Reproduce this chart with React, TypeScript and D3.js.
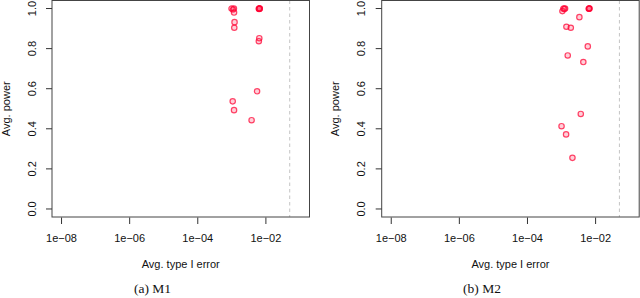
import React from "react";
import { scaleLog, scaleLinear } from "d3";

// Avg. type I error / avg. power for each method
const m1Error = [
  0.98e-3, 1.15e-3, 1.08e-3, 1.16e-3, 1.2e-3, 1.18e-3,
  6.2e-3, 6.4e-3, 6.6e-3, 6.3e-3, 6.5e-3,
  6.4e-3, 6.2e-3, 5.5e-3, 1.06e-3, 1.16e-3, 3.8e-3,
];
const m1Power = [
  1.0, 1.0, 0.995, 0.98, 0.932, 0.904,
  1.0, 1.0, 1.0, 0.998, 0.999,
  0.852, 0.837, 0.587, 0.537, 0.493, 0.443,
];

const m2Error = [
  1.13e-3, 1.27e-3, 1.06e-3, 1.2e-3,
  6.3e-3, 6.5e-3, 6.4e-3, 6.6e-3,
  3.34e-3, 1.39e-3, 1.87e-3, 5.9e-3, 1.52e-3, 4.36e-3,
  3.67e-3, 1.0e-3, 1.36e-3, 2.09e-3,
];
const m2Power = [
  1.0, 1.0, 0.987, 0.998,
  1.0, 1.0, 0.999, 1.0,
  0.957, 0.909, 0.904, 0.811, 0.766, 0.733,
  0.474, 0.413, 0.372, 0.255,
];

const xTicks = [1e-8, 1e-6, 1e-4, 1e-2];
const yTicks = [0, 0.2, 0.4, 0.6, 0.8, 1.0];
const alpha = 0.05;
const xLim: [number, number] = [1e-8, 1e-1];
const yLim: [number, number] = [0, 1];

const fmtX = (v: number) => {
  const e = Math.round(Math.log10(v));
  return `1e${e < 0 ? "\u2212" : "+"}${String(Math.abs(e)).padStart(2, "0")}`;
};

const sans = "'Liberation Sans', Arial, sans-serif";

function Panel({
  left,
  errors,
  powers,
  caption,
  captionX,
}: {
  left: number;
  errors: number[];
  powers: number[];
  caption: string;
  captionX: number;
}) {
  const width = 257.5;
  const top = 0.5;
  const bottom = 217;

  // R style 4% padding on both axes
  const lx0 = Math.log10(xLim[0]);
  const lx1 = Math.log10(xLim[1]);
  const padX = (lx1 - lx0) * 0.04;
  const x = scaleLog()
    .domain([10 ** (lx0 - padX), 10 ** (lx1 + padX)])
    .range([left, left + width]);

  const padY = (yLim[1] - yLim[0]) * 0.04;
  const y = scaleLinear()
    .domain([yLim[0] - padY, yLim[1] + padY])
    .range([bottom, top]);

  return (
    <g>
      {/* alpha reference line */}
      <line
        x1={x(alpha)}
        x2={x(alpha)}
        y1={top}
        y2={bottom}
        stroke="#c4c4c4"
        strokeWidth={1}
        strokeDasharray="3.5,3"
      />

      {/* points */}
      {errors.map((e, i) => (
        <circle
          key={i}
          cx={x(e)}
          cy={y(powers[i])}
          r={2.7}
          fill="rgba(255,40,80,0.22)"
          stroke="rgba(255,0,50,0.72)"
          strokeWidth={1.2}
        />
      ))}

      {/* box */}
      <rect
        x={left}
        y={top}
        width={width}
        height={bottom - top}
        fill="none"
        stroke="#444"
        strokeWidth={1}
      />

      {/* x axis */}
      {xTicks.map((t) => (
        <g key={t} transform={`translate(${x(t)},0)`}>
          <line y1={217.5} y2={224} stroke="#333" strokeWidth={1} />
          <text
            y={242}
            textAnchor="middle"
            fontFamily={sans}
            fontSize={11}
            fill="#111"
          >
            {fmtX(t)}
          </text>
        </g>
      ))}
      <text
        x={left + width / 2}
        y={268}
        textAnchor="middle"
        fontFamily={sans}
        fontSize={11}
        fill="#111"
      >
        Avg. type I error
      </text>

      {/* y axis */}
      {yTicks.map((t) => (
        <g key={t} transform={`translate(0,${y(t)})`}>
          <line x1={left - 6} x2={left} stroke="#333" strokeWidth={1} />
          <text
            transform={`translate(${left - 16.5},0) rotate(-90)`}
            textAnchor="middle"
            fontFamily={sans}
            fontSize={11}
            fill="#111"
          >
            {t.toFixed(1)}
          </text>
        </g>
      ))}
      <text
        transform={`translate(${left - 42.5},${(top + bottom) / 2}) rotate(-90)`}
        textAnchor="middle"
        fontFamily={sans}
        fontSize={11}
        fill="#111"
      >
        Avg. power
      </text>

      {/* caption */}
      <text
        x={captionX}
        y={293}
        textAnchor="middle"
        fontFamily="'Liberation Serif', 'DejaVu Serif', serif"
        fontSize={13.5}
        fill="#111"
      >
        {caption}
      </text>
    </g>
  );
}

export default function App() {
  return (
    <svg
      width={640}
      height={298}
      style={{ position: "absolute", left: 0, top: 0, background: "#fff" }}
    >
      <Panel left={52} errors={m1Error} powers={m1Power} caption="(a) M1" captionX={152.5} />
      <Panel left={381.7} errors={m2Error} powers={m2Power} caption="(b) M2" captionX={482} />
    </svg>
  );
}
